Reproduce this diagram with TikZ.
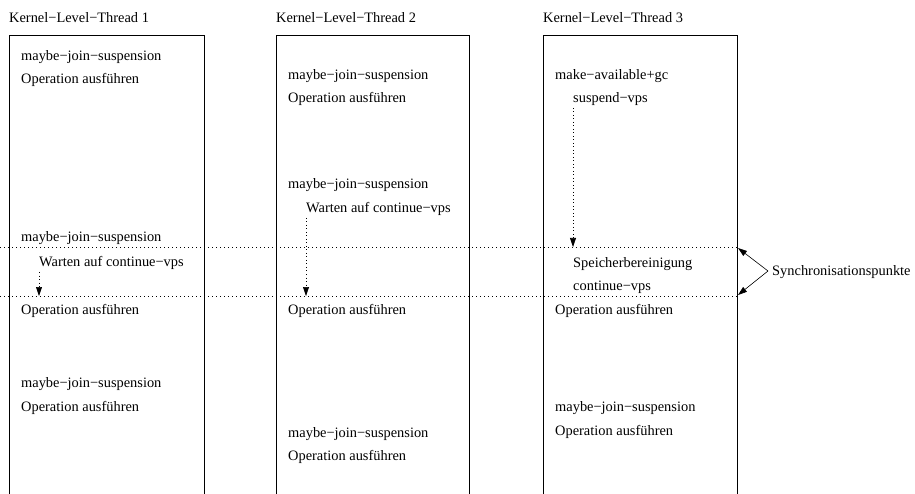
\documentclass[tikz,border=0pt]{standalone}
\usepackage{fontspec}
\setmainfont{Liberation Serif}
\usetikzlibrary{arrows.meta}
\begin{document}
\begin{tikzpicture}[x=1pt,y=-1pt,
  lbl/.style={anchor=base west,inner sep=0pt,font=\fontsize{14.4}{16}\selectfont},
  lane/.style={draw=black,line width=0.8pt},
  sync/.style={draw=black,line width=0.6pt,dash pattern=on 1pt off 3pt},
  waitarrow/.style={draw=black,line width=0.6pt,dash pattern=on 1pt off 2.5pt,
    -{Triangle[length=9pt,width=6pt]}},
  syncarrow/.style={draw=black,line width=0.6pt,-{Triangle[length=9pt,width=6pt]}}]
\useasboundingbox (0,0) rectangle (915,494);

% thread lanes, open at the bottom
\draw[lane] (9,496) -- (9,35) -- (204,35) -- (204,496);
\draw[lane] (276,496) -- (276,35) -- (469,35) -- (469,496);
\draw[lane] (543,496) -- (543,35) -- (737,35) -- (737,496);

% lane titles
\node[lbl] (t1) at (9,23) {Kernel−Level−Thread 1};
\node[lbl] (t2) at (276,23) {Kernel−Level−Thread 2};
\node[lbl] (t3) at (543,23) {Kernel−Level−Thread 3};

% synchronisation lines
\coordinate (s1l) at (0,247);
\coordinate (s1r) at (737,247);
\coordinate (s2l) at (0,296);
\coordinate (s2r) at (737,296);
\draw[sync] (s1l) -- (s1r);
\draw[sync] (s2l) -- (s2r);

% thread 1
\node[lbl] (a1) at (21,60.5) {maybe−join−suspension};
\node[lbl] (a2) at (21,83.5) {Operation ausführen};
\node[lbl] (a3) at (21,241.5) {maybe−join−suspension};
\node[lbl] (a4) at (39,266.5) {Warten auf continue−vps};
\node[lbl] (a5) at (21,314.5) {Operation ausführen};
\node[lbl] (a6) at (21,387.5) {maybe−join−suspension};
\node[lbl] (a7) at (21,411.5) {Operation ausführen};

% thread 2
\node[lbl] (b1) at (288,79.5) {maybe−join−suspension};
\node[lbl] (b2) at (288,102.5) {Operation ausführen};
\node[lbl] (b3) at (288,188.5) {maybe−join−suspension};
\node[lbl] (b4) at (306,212.5) {Warten auf continue−vps};
\node[lbl] (b5) at (288,314.5) {Operation ausführen};
\node[lbl] (b6) at (288,437.5) {maybe−join−suspension};
\node[lbl] (b7) at (288,460.5) {Operation ausführen};

% thread 3
\node[lbl] (c1) at (555,79.5) {make−available+gc};
\node[lbl] (c2) at (573,102.5) {suspend−vps};
\node[lbl] (c3) at (573,267.5) {Speicherbereinigung};
\node[lbl] (c4) at (573,290.5) {continue−vps};
\node[lbl] (c5) at (555,314.5) {Operation ausführen};
\node[lbl] (c6) at (555,411.5) {maybe−join−suspension};
\node[lbl] (c7) at (555,435.5) {Operation ausführen};

% waiting arrows
\coordinate (w1a) at (39,272);
\coordinate (w1b) at (39,296);
\coordinate (w2a) at (306,218);
\coordinate (w2b) at (306,296);
\coordinate (w3a) at (573,108);
\coordinate (w3b) at (573,247);
\draw[waitarrow] (w1a) -- (w1b);
\draw[waitarrow] (w2a) -- (w2b);
\draw[waitarrow] (w3a) -- (w3b);

% synchronisation label
\node[lbl] (sp) at (772,275.5) {Synchronisationspunkte};
\coordinate (spl) at (768,271);
\draw[syncarrow] (spl) -- (738,248);
\draw[syncarrow] (spl) -- (738,295);
\end{tikzpicture}
\end{document}
